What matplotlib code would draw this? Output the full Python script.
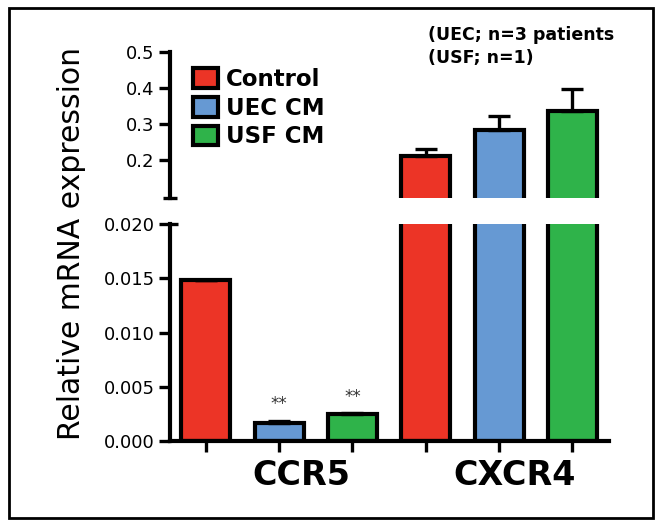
import numpy as np
import matplotlib
matplotlib.use('Agg')
import matplotlib.pyplot as plt
from matplotlib.patches import Rectangle

# data
genes = ['CCR5', 'CXCR4']
groups = ['Control', 'UEC CM', 'USF CM']
colors = ['#EC3426', '#6699D3', '#2FB34A']
ccr5_vals = [0.0148, 0.00165, 0.00245]
ccr5_err = [0.0, 0.00022, 0.00013]
cxcr4_vals = [0.211, 0.283, 0.336]
cxcr4_err = [0.020, 0.039, 0.061]
stars = ['', '**', '**']

W, H = 664, 528
fig = plt.figure(figsize=(W / 100, H / 100), dpi=100)


def fx(px):
    return px / W


def fy(py):
    return 1 - py / H


ax_b = fig.add_axes([fx(170), fy(441), fx(609) - fx(170), fy(224) - fy(441)])
ax_t = fig.add_axes([fx(170), fy(198), fx(609) - fx(170), fy(52) - fy(198)])

vals = ccr5_vals + cxcr4_vals
errs = ccr5_err + cxcr4_err
cols = colors + colors
x = np.arange(len(vals))

bars = None
for ax in (ax_b, ax_t):
    b = ax.bar(x, vals, width=0.67, color=cols, edgecolor='black', linewidth=3,
               yerr=[np.zeros(len(errs)), errs], capsize=8,
               error_kw=dict(ecolor='black', elinewidth=2.4, capthick=2.4), zorder=2)
    if bars is None:
        bars = b
    ax.set_xlim(-0.49, 5.5)
    ax.spines['top'].set_visible(False)
    ax.spines['right'].set_visible(False)
    ax.spines['left'].set_linewidth(3)
    ax.tick_params(axis='y', length=8, width=2.4, labelsize=13, pad=3)

# lower panel
ax_b.set_ylim(0, 0.020)
ax_b.set_yticks([0, 0.005, 0.010, 0.015, 0.020])
ax_b.set_yticklabels(['%.3f' % v for v in [0, 0.005, 0.010, 0.015, 0.020]])
ax_b.spines['bottom'].set_linewidth(3)
ax_b.set_xticks(x)
ax_b.set_xticklabels([])
ax_b.tick_params(axis='x', length=8, width=2.4)
ax_b.plot([0, 0.018], [1, 1], transform=ax_b.transAxes, color='black', lw=2.4,
          clip_on=False, solid_capstyle='butt')

for i, s in enumerate(stars):
    if s:
        ax_b.text(x[i], ccr5_vals[i] + ccr5_err[i] + 0.0015, s, ha='center',
                  va='center', fontsize=12, color='#333333')

# upper panel
ax_t.set_ylim(0.0944, 0.5)
ax_t.set_yticks([0.2, 0.3, 0.4, 0.5])
ax_t.set_yticklabels(['0.2', '0.3', '0.4', '0.5'])
ax_t.spines['bottom'].set_visible(False)
ax_t.set_xticks([])
ax_t.plot([-0.017, 0.017], [0, 0], transform=ax_t.transAxes, color='black', lw=2.4,
          clip_on=False, solid_capstyle='butt')

ax_t.legend(bars[:3], groups, loc='upper left', bbox_to_anchor=(fx(193), fy(68)),
            bbox_transform=fig.transFigure, frameon=False, borderpad=0,
            handlelength=1.1, handleheight=0.95, labelspacing=0.25,
            handletextpad=0.35, borderaxespad=0,
            prop=dict(weight='bold', size=16.5))

fig.text(fx(72), fy(244), 'Relative mRNA expression', rotation=90,
         ha='center', va='center', fontsize=21.5)

fig.text(fx(301), fy(485), genes[0], ha='center', va='baseline',
         fontsize=24, fontweight='bold')
fig.text(fx(515), fy(485), genes[1], ha='center', va='baseline',
         fontsize=24, fontweight='bold')

fig.text(fx(428), fy(40), '(UEC; n=3 patients', ha='left', va='baseline',
         fontsize=12.5, fontweight='bold')
fig.text(fx(428), fy(63), '(USF; n=1)', ha='left', va='baseline',
         fontsize=12.5, fontweight='bold')

# frame round the whole figure
fig.patches.append(Rectangle((fx(9), fy(518)), fx(653) - fx(9), fy(8) - fy(518),
                             transform=fig.transFigure, fill=False,
                             edgecolor='black', linewidth=2))

fig.savefig('out.png', dpi=100)
